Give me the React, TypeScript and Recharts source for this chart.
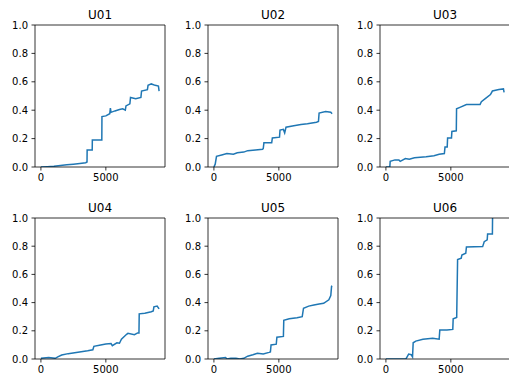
import React from 'react';
import { LineChart, Line, XAxis, YAxis, ReferenceLine } from 'recharts';

// one step-like curve per unit
const titles = ['U01', 'U02', 'U03', 'U04', 'U05', 'U06'];
const yTicks = [0, 0.2, 0.4, 0.6, 0.8, 1.0];
const xTicks = [0, 5000];
const seriesLength = 9100;

const u01: [number, number][] = [
  [0, 0], [500, 0.002], [1000, 0.005], [1500, 0.01], [2000, 0.015], [2500, 0.02],
  [3000, 0.025], [3450, 0.03], [3550, 0.035], [3560, 0.12], [3950, 0.12], [3960, 0.19],
  [4690, 0.19], [4700, 0.355], [5000, 0.36], [5300, 0.375], [5350, 0.415], [5400, 0.385],
  [5700, 0.395], [6050, 0.405], [6300, 0.41], [6500, 0.4], [6550, 0.43], [6850, 0.445],
  [6900, 0.49], [7300, 0.48], [7700, 0.49], [7750, 0.535], [8200, 0.545], [8250, 0.575],
  [8500, 0.585], [8800, 0.575], [9050, 0.57], [9100, 0.535],
];

const u02: [number, number][] = [
  [0, 0], [100, 0.02], [200, 0.075], [600, 0.085], [1000, 0.095], [1500, 0.09],
  [1800, 0.1], [2300, 0.105], [2600, 0.115], [3200, 0.12], [3750, 0.125], [3800, 0.13],
  [3850, 0.17], [4450, 0.17], [4500, 0.205], [5050, 0.21], [5090, 0.26], [5350, 0.265],
  [5450, 0.24], [5550, 0.28], [6150, 0.29], [6700, 0.3], [7200, 0.305], [7900, 0.315],
  [8050, 0.32], [8100, 0.38], [8600, 0.39], [9000, 0.385], [9100, 0.375],
];

const u03: [number, number][] = [
  [0, 0], [300, 0], [330, 0.04], [700, 0.05], [1000, 0.05], [1100, 0.04],
  [1500, 0.06], [1800, 0.055], [2200, 0.065], [3100, 0.072], [3700, 0.08], [4100, 0.09],
  [4500, 0.095], [4550, 0.14], [4720, 0.14], [4750, 0.205], [5050, 0.205], [5080, 0.25],
  [5420, 0.255], [5440, 0.41], [5700, 0.42], [6200, 0.44], [7250, 0.44], [7350, 0.46],
  [7700, 0.485], [8050, 0.51], [8200, 0.535], [8700, 0.545], [9050, 0.55], [9100, 0.525],
];

const u04: [number, number][] = [
  [0, 0.005], [600, 0.01], [1100, 0.005], [1300, 0.015], [1600, 0.028], [2100, 0.038],
  [2600, 0.045], [3100, 0.052], [3600, 0.058], [4000, 0.065], [4080, 0.09], [4600, 0.1],
  [5000, 0.106], [5400, 0.11], [5500, 0.095], [5850, 0.115], [6050, 0.112], [6200, 0.14],
  [6600, 0.175], [6700, 0.182], [7200, 0.172], [7450, 0.185], [7550, 0.185], [7570, 0.32],
  [8000, 0.325], [8500, 0.335], [8650, 0.34], [8700, 0.37], [8950, 0.375], [9100, 0.355],
];

const u05: [number, number][] = [
  [0, 0], [400, 0.005], [900, 0.01], [1000, 0], [1300, 0.005], [1700, 0.005],
  [2000, 0], [2300, 0.005], [2600, 0.02], [3000, 0.03], [3350, 0.04], [3800, 0.035],
  [4250, 0.047], [4350, 0.05], [4400, 0.1], [4800, 0.105], [4850, 0.155], [5350, 0.16],
  [5380, 0.275], [5800, 0.285], [6400, 0.293], [6800, 0.3], [6900, 0.36], [7300, 0.375],
  [7700, 0.383], [8100, 0.39], [8450, 0.395], [8850, 0.42], [9000, 0.45], [9060, 0.515],
  [9100, 0.52],
];

const u06: [number, number][] = [
  [0, 0], [1550, 0.002], [1600, 0.01], [1750, 0.035], [1950, 0.03], [2050, 0.015],
  [2100, 0.115], [2300, 0.127], [2850, 0.14], [3600, 0.147], [4100, 0.14], [4150, 0.205],
  [4700, 0.205], [5150, 0.21], [5180, 0.285], [5450, 0.295], [5520, 0.705], [5800, 0.715],
  [5850, 0.738], [6150, 0.75], [6200, 0.795], [7450, 0.797], [7570, 0.832], [7800, 0.845],
  [7830, 0.887], [8200, 0.887], [8220, 1.08], [8700, 1.12], [9100, 1.15],
];

const series = [u01, u02, u03, u04, u05, u06];

const colLefts = [35, 208, 380];
const rowTops = [25, 218];
const rowHeights = [142, 141];
const plotWidth = 130;
const topPad = 10;

const axisStyle = { stroke: '#000', strokeWidth: 0.8 };
const tickStyle = { fill: '#000', fontSize: 10, fontFamily: 'DejaVu Sans' };

function Panel({ title, points, left, top, height }: any) {
  const data = points.map(([x, y]: [number, number]) => ({ x, y }));
  const pad = seriesLength * 0.05;
  return (
    <>
      <div
        style={{
          position: 'absolute',
          left,
          top: top - 17,
          width: plotWidth,
          textAlign: 'center',
          fontSize: 12,
          lineHeight: '14px',
          color: '#000',
        }}
      >
        {title}
      </div>
      <div style={{ position: 'absolute', left: left - 35, top: top - topPad }}>
        <LineChart
          width={35 + plotWidth + 2}
          height={height + topPad + 25}
          data={data}
          margin={{ top: topPad, right: 2, bottom: 0, left: 0 }}
        >
          <XAxis
            dataKey="x"
            type="number"
            domain={[-pad, seriesLength + pad]}
            ticks={xTicks}
            interval={0}
            height={25}
            tickSize={3.5}
            tickMargin={3.5}
            axisLine={axisStyle}
            tickLine={axisStyle}
            tick={tickStyle}
          />
          <YAxis
            type="number"
            domain={[0, 1]}
            ticks={yTicks}
            interval={0}
            allowDataOverflow
            width={35}
            tickSize={3.5}
            tickMargin={3.5}
            tickFormatter={(v: number) => v.toFixed(1)}
            axisLine={axisStyle}
            tickLine={axisStyle}
            tick={tickStyle}
          />
          <Line
            dataKey="y"
            type="linear"
            stroke="#1f77b4"
            strokeWidth={1.5}
            dot={false}
            isAnimationActive={false}
          />
          <ReferenceLine y={1} stroke="#000" strokeWidth={0.8} ifOverflow="visible" />
          <ReferenceLine x={seriesLength + pad} stroke="#000" strokeWidth={0.8} ifOverflow="visible" />
        </LineChart>
      </div>
    </>
  );
}

export default function App() {
  return (
    <div
      style={{
        position: 'absolute',
        left: 0,
        top: 0,
        width: 509,
        height: 377,
        overflow: 'hidden',
        background: '#fff',
        fontFamily: 'DejaVu Sans',
      }}
    >
      {series.map((points, i) => {
        const row = Math.floor(i / 3);
        const col = i % 3;
        return (
          <Panel
            key={titles[i]}
            title={titles[i]}
            points={points}
            left={colLefts[col]}
            top={rowTops[row]}
            height={rowHeights[row]}
          />
        );
      })}
    </div>
  );
}
